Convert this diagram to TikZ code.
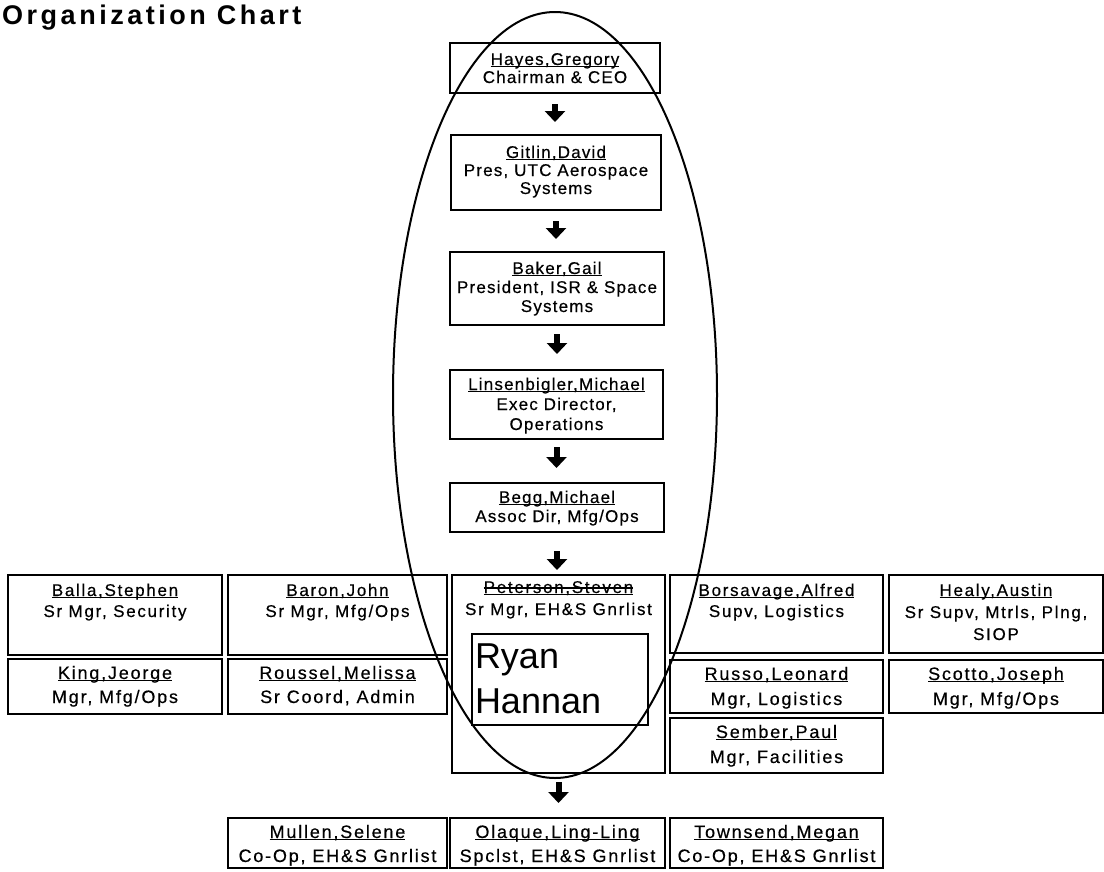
\documentclass[tikz,border=0pt]{standalone}
\usepackage{fontspec}
\setmainfont{Liberation Sans}
\newfontfamily\bxA[LetterSpace=7,FakeBold=0.4]{Liberation Sans}
\newfontfamily\bxB[LetterSpace=10,FakeBold=0.4]{Liberation Sans}
\newfontfamily\ttlf[LetterSpace=13]{Liberation Sans}
\usetikzlibrary{arrows.meta,shapes.geometric,calc}
\newcommand\bx[6]{\parbox[c][#2pt][t]{#1pt}{\centering\lineskiplimit=-100pt\fontsize{#3}{#5}\selectfont\rule{0pt}{#4pt}#6\par}}
\newcommand\nm[1]{\setbox0=\hbox{#1}\rlap{\rule[-2.4pt]{\wd0}{1.3pt}}\box0}
\newcommand\nmx[1]{\setbox0=\hbox{#1}\rlap{\rule[-2.4pt]{\wd0}{1.3pt}}\rlap{\rule[4.5pt]{\wd0}{1.3pt}}\box0}
\tikzset{
  box/.style={draw, line width=2.2pt, inner sep=0pt, outer sep=0pt, anchor=north west},
  chain/.style={box, font=\bxA},
  rowbox/.style={box, font=\bxB},
  arr/.style={line width=6pt, -{Triangle[width=20pt,length=11pt]}},
}
\begin{document}
\begin{tikzpicture}[x=1pt,y=-1pt]
\useasboundingbox[fill=white] (0,0) rectangle (1104,871);
\node[anchor=base west, inner sep=0pt, font=\ttlf\bfseries\fontsize{27}{30}\selectfont] (title) at (2,24) {Organization Chart};
% main chain
\node[chain] (hayes) at (450,43) {\bx{210}{50}{17}{22}{18}{\nm{Hayes,Gregory}\\Chairman \& CEO}};
\node[chain] (gitlin) at (451,135) {\bx{210}{75}{17}{23}{18}{\nm{Gitlin,David}\\Pres, UTC Aerospace\\Systems}};
\node[chain] (baker) at (450,252) {\bx{214}{73}{17}{22}{19}{\nm{Baker,Gail}\\President, ISR \& Space\\Systems}};
\node[chain] (lins) at (450,370) {\bx{213}{69}{17}{20}{20}{\nm{Linsenbigler,Michael}\\Exec Director,\\Operations}};
\node[chain] (begg) at (450,483) {\bx{214}{49}{17}{20}{19}{\nm{Begg,Michael}\\Assoc Dir, Mfg/Ops}};
% row 1
\node[rowbox] (balla) at (8,575) {\bx{214}{80}{17}{21}{21}{\nm{Balla,Stephen}\\Sr Mgr, Security}};
\node[rowbox] (baron) at (228,575) {\bx{219}{80}{17}{21}{21}{\nm{Baron,John}\\Sr Mgr, Mfg/Ops}};
\node[rowbox] (peterson) at (452,575) {\bx{213}{198}{17}{18}{22}{\nmx{Peterson,Steven}\\Sr Mgr, EH\&S Gnrlist}};
\node[rowbox] (borsavage) at (670,575) {\bx{213}{78}{17}{21}{21}{\nm{Borsavage,Alfred}\\Supv, Logistics}};
\node[rowbox] (healy) at (889,575) {\bx{214}{78}{17}{21}{22}{\nm{Healy,Austin}\\Sr Supv, Mtrls, Plng,\\SIOP}};
% row 2
\node[rowbox] (king) at (8,659) {\bx{214}{55}{18}{20}{24}{\nm{King,Jeorge}\\Mgr, Mfg/Ops}};
\node[rowbox] (roussel) at (228,659) {\bx{219}{55}{18}{20}{24}{\nm{Roussel,Melissa}\\Sr Coord, Admin}};
\node[rowbox] (russo) at (670,660) {\bx{213}{53}{18}{20}{25}{\nm{Russo,Leonard}\\Mgr, Logistics}};
\node[rowbox] (scotto) at (889,660) {\bx{214}{53}{18}{20}{25}{\nm{Scotto,Joseph}\\Mgr, Mfg/Ops}};
\node[rowbox] (sember) at (670,718) {\bx{213}{55}{18}{20}{25}{\nm{Sember,Paul}\\Mgr, Facilities}};
% bottom row
\node[rowbox] (mullen) at (228,818) {\bx{219}{50}{18}{20}{24}{\nm{Mullen,Selene}\\Co-Op, EH\&S Gnrlist}};
\node[rowbox] (olaque) at (450,818) {\bx{215}{50}{18}{20}{24}{\nm{Olaque,Ling-Ling}\\Spclst, EH\&S Gnrlist}};
\node[rowbox] (townsend) at (670,818) {\bx{213}{50}{18}{20}{24}{\nm{Townsend,Megan}\\Co-Op, EH\&S Gnrlist}};
% inner name box
\node[draw, line width=1.5pt, inner sep=0pt, outer sep=0pt, anchor=north west] (ryan) at (472,634)
  {\parbox[c][91pt][t]{176pt}{\raggedright\lineskiplimit=-100pt\fontsize{36}{45}\selectfont\rule{0pt}{34pt}\hspace*{3pt}Ryan\\\hspace*{3pt}Hannan\par}};
% arrows
\draw[arr, shorten <=11pt, shorten >=13pt] (hayes.south) -- (hayes.south |- gitlin.north);
\draw[arr, shorten <=11pt, shorten >=13pt] (gitlin.south) -- (gitlin.south |- baker.north);
\draw[arr, shorten <=9pt, shorten >=16pt] (baker.south) -- (baker.south |- lins.north);
\draw[arr, shorten <=8pt, shorten >=15pt] (lins.south) -- (lins.south |- begg.north);
\draw[arr, shorten <=19pt, shorten >=5pt] (begg.south) -- (begg.south |- peterson.north);
\draw[arr, shorten <=9pt, shorten >=15pt] (peterson.south) -- (peterson.south |- olaque.north);
% highlight oval
\node[draw, ellipse, line width=2pt, minimum width=324pt, minimum height=766pt, inner sep=0pt] (oval) at (555,395) {};
\end{tikzpicture}
\end{document}
